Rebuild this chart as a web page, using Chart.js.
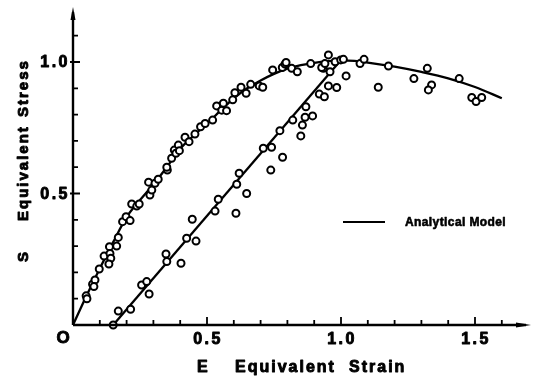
<!DOCTYPE html>
<html>
<head>
<meta charset="utf-8">
<script src="https://cdn.jsdelivr.net/npm/chart.js@4"></script>
<style>
  body { margin: 0; background: #fff; }
  #wrap { width: 538px; height: 378px; }
</style>
</head>
<body>
<div id="wrap"><canvas id="chart" width="538" height="378"></canvas></div>
<script>
// analytical model curve (loading to peak, then softening)
const modelStrain = [0, 0.05, 0.1, 0.15, 0.2, 0.25, 0.3, 0.35, 0.4, 0.45, 0.5, 0.55, 0.6, 0.65, 0.7, 0.75, 0.8, 0.85, 0.9, 0.95, 1.0, 1.05, 1.1, 1.2, 1.3, 1.4, 1.5, 1.6];
const modelStress = [0, 0.11, 0.215, 0.315, 0.41, 0.475, 0.535, 0.6, 0.67, 0.72, 0.765, 0.815, 0.862, 0.9, 0.93, 0.955, 0.975, 0.988, 0.997, 1.003, 1.006, 1.004, 0.998, 0.982, 0.962, 0.938, 0.905, 0.862];

// straight model line (second test)
const lineStrain = [0.15, 1.0];
const lineStress = [0, 1.008];

// measured points, first test
const testAStrain = [0.049, 0.052, 0.073, 0.082, 0.078, 0.098, 0.116, 0.136, 0.138, 0.141, 0.134, 0.163, 0.169, 0.185, 0.198, 0.213, 0.219, 0.238, 0.247, 0.282, 0.287, 0.294, 0.306, 0.318, 0.352, 0.35, 0.368, 0.378, 0.384, 0.393, 0.397, 0.418, 0.433, 0.455, 0.476, 0.493, 0.521, 0.536, 0.555, 0.561, 0.573, 0.596, 0.604, 0.627, 0.646, 0.663, 0.695, 0.708, 0.745, 0.781, 0.791, 0.795, 0.816, 0.837, 0.887, 0.928, 0.94, 0.953, 0.978, 0.999, 1.009, 1.019, 1.071, 1.086, 1.139, 1.177, 1.272, 1.322, 1.338, 1.326, 1.441, 1.488, 1.504, 1.525];
const testAStress = [0.111, 0.1, 0.155, 0.171, 0.146, 0.213, 0.262, 0.298, 0.272, 0.254, 0.232, 0.3, 0.333, 0.393, 0.412, 0.397, 0.46, 0.452, 0.46, 0.543, 0.494, 0.513, 0.539, 0.554, 0.589, 0.6, 0.634, 0.665, 0.653, 0.684, 0.663, 0.714, 0.697, 0.726, 0.754, 0.766, 0.779, 0.833, 0.817, 0.843, 0.815, 0.856, 0.883, 0.904, 0.881, 0.915, 0.909, 0.904, 0.97, 0.979, 0.992, 0.998, 0.976, 0.963, 0.994, 0.979, 0.994, 1.027, 1.001, 1.008, 1.01, 0.947, 0.994, 1.01, 0.904, 0.985, 0.937, 0.976, 0.913, 0.894, 0.937, 0.865, 0.85, 0.865];

// measured points, second test
const testBStrain = [0.15, 0.169, 0.215, 0.256, 0.275, 0.284, 0.347, 0.35, 0.403, 0.424, 0.445, 0.459, 0.53, 0.542, 0.608, 0.611, 0.62, 0.648, 0.71, 0.741, 0.738, 0.772, 0.782, 0.82, 0.85, 0.856, 0.866, 0.894, 0.869, 0.919, 0.938, 0.953, 0.984, 0.959, 0.934];
const testBStress = [0.0, 0.053, 0.06, 0.152, 0.165, 0.118, 0.27, 0.241, 0.235, 0.33, 0.402, 0.319, 0.433, 0.478, 0.425, 0.535, 0.577, 0.5, 0.672, 0.676, 0.589, 0.739, 0.638, 0.779, 0.719, 0.76, 0.79, 0.795, 0.83, 0.878, 0.868, 0.909, 0.903, 0.963, 0.976];

// axis ticks
const xTicks = [0.1, 0.2, 0.3, 0.4, 0.5, 0.6, 0.7, 0.8, 0.9, 1.0, 1.1, 1.2, 1.3, 1.4, 1.5, 1.6];
const yTicks = [0.1, 0.2, 0.3, 0.4, 0.5, 0.6, 0.7, 0.8, 0.9, 1.0, 1.1];
const xTickLabels = ["0.5", "1.0", "1.5"];
const yTickLabels = ["0.5", "1.0"];

const pts = (xs, ys) => xs.map((x, i) => ({ x: x, y: ys[i] }));
const BOLD = "'Liberation Sans', Arial, sans-serif";

// heavy text, like the printed original
function heavy(c, t, x, y) {
  c.fillText(t, x, y);
  c.strokeText(t, x, y);
}

const paperAxes = {
  id: "paperAxes",
  afterDatasetsDraw(chart) {
    const c = chart.ctx;
    const xs = chart.scales.x, ys = chart.scales.y;
    const x0 = xs.getPixelForValue(0), y0 = ys.getPixelForValue(0);
    c.save();
    c.strokeStyle = "#000";
    c.fillStyle = "#000";
    c.lineWidth = 2.4;
    // axis lines
    c.beginPath();
    c.moveTo(x0, y0); c.lineTo(x0, 12);
    c.moveTo(x0, y0); c.lineTo(526, y0);
    c.stroke();
    // arrow heads
    c.beginPath();
    c.moveTo(x0, 7); c.lineTo(x0 - 2.5, 20); c.lineTo(x0 + 2.5, 20); c.closePath(); c.fill();
    c.beginPath();
    c.moveTo(531, y0); c.lineTo(516, y0 - 2.5); c.lineTo(516, y0 + 2.5); c.closePath(); c.fill();
    // ticks (pointing inward)
    c.lineWidth = 1.8;
    c.beginPath();
    xTicks.forEach(v => {
      const px = xs.getPixelForValue(v);
      const len = Math.abs(v * 2 - Math.round(v * 2)) < 1e-6 ? 8 : 5;
      c.moveTo(px, y0); c.lineTo(px, y0 - len);
    });
    yTicks.forEach(v => {
      const py = ys.getPixelForValue(v);
      const major = Math.abs(v * 2 - Math.round(v * 2)) < 1e-6;
      c.moveTo(major ? x0 - 3 : x0, py); c.lineTo(x0 + (major ? 7 : 5), py);
    });
    c.stroke();

    c.lineWidth = 0.9;
    c.lineJoin = "round";
    // tick labels
    c.font = "bold 16px " + BOLD;
    c.letterSpacing = "2.5px";
    c.textAlign = "center";
    c.textBaseline = "middle";
    xTickLabels.forEach(t => heavy(c, t, xs.getPixelForValue(parseFloat(t)) + 1, y0 + 15));
    c.textAlign = "right";
    yTickLabels.forEach(t => heavy(c, t, x0 - 3, ys.getPixelForValue(parseFloat(t)) + 1));
    c.textAlign = "center";
    c.letterSpacing = "0px";
    c.font = "bold 17px " + BOLD;
    heavy(c, "O", x0 - 10, y0 + 13);

    // x axis title
    c.font = "bold 16px " + BOLD;
    c.letterSpacing = "2px";
    c.textAlign = "left";
    c.textBaseline = "alphabetic";
    heavy(c, "E", 197, 372);
    heavy(c, "Equivalent", 235, 372);
    heavy(c, "Strain", 349, 372);

    // y axis title (rotated)
    c.save();
    c.translate(28, 0);
    c.rotate(-Math.PI / 2);
    c.font = "bold 15px " + BOLD;
    c.textAlign = "left";
    heavy(c, "S", -262, 0);
    heavy(c, "Equivalent", -221, 0);
    heavy(c, "Stress", -117, 0);
    c.restore();

    // legend
    c.lineWidth = 2.2;
    c.beginPath(); c.moveTo(343, 222); c.lineTo(385, 222); c.stroke();
    c.lineWidth = 0.6;
    c.font = "bold 12px " + BOLD;
    c.letterSpacing = "0.4px";
    c.textAlign = "left";
    c.textBaseline = "middle";
    heavy(c, "Analytical Model", 405, 223);
    c.restore();
  }
};

new Chart(document.getElementById("chart"), {
  type: "scatter",
  data: {
    datasets: [
      {
        label: "Analytical Model",
        data: pts(modelStrain, modelStress),
        showLine: true,
        borderColor: "#000",
        borderWidth: 2.3,
        pointRadius: 0,
        tension: 0.4,
        cubicInterpolationMode: "monotone",
        order: 2,
      },
      {
        label: "Model line",
        data: pts(lineStrain, lineStress),
        showLine: true,
        borderColor: "#000",
        borderWidth: 2.3,
        pointRadius: 0,
        order: 2,
      },
      {
        label: "Test A",
        data: pts(testAStrain, testAStress),
        pointRadius: 3.5,
        pointBorderWidth: 2,
        borderColor: "#000",
        backgroundColor: "#fff",
        order: 1,
      },
      {
        label: "Test B",
        data: pts(testBStrain, testBStress),
        pointRadius: 3.5,
        pointBorderWidth: 2,
        borderColor: "#000",
        backgroundColor: "#fff",
        order: 1,
      },
    ],
  },
  options: {
    responsive: false,
    animation: false,
    events: [],
    clip: false,
    layout: { padding: { left: 73, right: 9.4, top: 9.4, bottom: 53 } },
    plugins: { legend: { display: false }, tooltip: { enabled: false } },
    scales: {
      x: { type: "linear", display: false, min: 0, max: 1.7 },
      y: { type: "linear", display: false, min: 0, max: 1.2 },
    },
  },
  plugins: [paperAxes],
});
</script>
</body>
</html>
